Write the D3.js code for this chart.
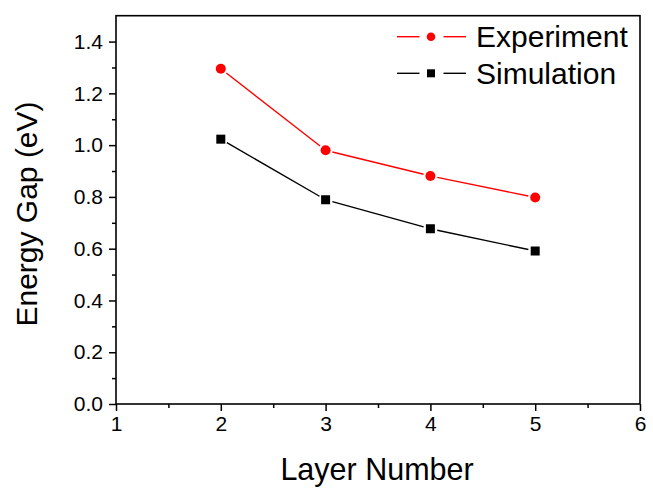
<!DOCTYPE html>
<html>
<head>
<meta charset="utf-8">
<script src="https://cdn.jsdelivr.net/npm/d3@7/dist/d3.min.js"></script>
<style>
  html, body { margin: 0; padding: 0; background: #fff; }
  svg { display: block; font-family: "Liberation Sans", Arial, sans-serif; }
</style>
</head>
<body>
<svg id="chart" width="653" height="498"></svg>
<script>
// Layer number vs. band gap
const layers = [2, 3, 4, 5];
const experiment = [1.295, 0.980, 0.881, 0.798];
const simulation = [1.023, 0.789, 0.677, 0.591];
const xTicks = [1, 2, 3, 4, 5, 6];
const yTicks = [0.0, 0.2, 0.4, 0.6, 0.8, 1.0, 1.2, 1.4];
const seriesNames = ["Experiment", "Simulation"];
const seriesColors = ["#ff0000", "#000000"];

const svg = d3.select("#chart");
const m = { left: 116, top: 15.7, right: 640, bottom: 404 };

const x = d3.scaleLinear().domain([1, 6]).range([m.left, m.right]);
const y = d3.scaleLinear().domain([0, 1.5]).range([m.bottom, m.top]);

// Major and minor ticks on the bottom axis
const xAxis = d3.axisBottom(x).tickValues(xTicks).tickFormat(d3.format("d"))
  .tickSizeInner(7).tickSizeOuter(0).tickPadding(5);
const gx = svg.append("g").attr("transform", `translate(0,${m.bottom})`).call(xAxis);
gx.select(".domain").remove();
gx.selectAll(".tick line").attr("stroke-width", 1.5);
gx.selectAll(".tick text").attr("font-size", 21).attr("fill", "#000")
  .attr("font-family", "'Liberation Sans', Arial, sans-serif");
const xMinor = d3.axisBottom(x).tickValues([1.5, 2.5, 3.5, 4.5, 5.5])
  .tickSizeInner(4).tickSizeOuter(0).tickFormat("");
const gxm = svg.append("g").attr("transform", `translate(0,${m.bottom})`).call(xMinor);
gxm.select(".domain").remove();
gxm.selectAll(".tick line").attr("stroke-width", 1.5);

// Major and minor ticks on the left axis
const yAxis = d3.axisLeft(y).tickValues(yTicks).tickFormat(d3.format(".1f"))
  .tickSizeInner(7).tickSizeOuter(0).tickPadding(6);
const gy = svg.append("g").attr("transform", `translate(${m.left},0)`).call(yAxis);
gy.select(".domain").remove();
gy.selectAll(".tick line").attr("stroke-width", 1.5);
gy.selectAll(".tick text").attr("font-size", 21).attr("fill", "#000")
  .attr("font-family", "'Liberation Sans', Arial, sans-serif");
const yMinor = d3.axisLeft(y).tickValues([0.1, 0.3, 0.5, 0.7, 0.9, 1.1, 1.3])
  .tickSizeInner(4).tickSizeOuter(0).tickFormat("");
const gym = svg.append("g").attr("transform", `translate(${m.left},0)`).call(yMinor);
gym.select(".domain").remove();
gym.selectAll(".tick line").attr("stroke-width", 1.5);

// Plot frame
svg.append("rect")
  .attr("x", m.left).attr("y", m.top)
  .attr("width", m.right - m.left).attr("height", m.bottom - m.top)
  .attr("fill", "none").attr("stroke", "#000").attr("stroke-width", 1.6);

// Axis titles
svg.append("text").attr("x", (m.left + m.right) / 2 - 1).attr("y", 480)
  .attr("text-anchor", "middle").attr("font-size", 30.5).text("Layer Number");
svg.append("text")
  .attr("transform", `translate(37,214) rotate(-90)`)
  .attr("text-anchor", "middle").attr("font-size", 30).text("Energy Gap (eV)");

// Connecting segments stop short of each marker
function gappedSegments(vals, gap) {
  const segs = [];
  for (let i = 0; i < layers.length - 1; i++) {
    const x0 = x(layers[i]), y0 = y(vals[i]);
    const x1 = x(layers[i + 1]), y1 = y(vals[i + 1]);
    const len = Math.hypot(x1 - x0, y1 - y0);
    const ux = (x1 - x0) / len, uy = (y1 - y0) / len;
    segs.push([x0 + ux * gap, y0 + uy * gap, x1 - ux * gap, y1 - uy * gap]);
  }
  return segs;
}

const series = [experiment, simulation];
series.forEach((vals, si) => {
  const g = svg.append("g");
  g.selectAll("line").data(gappedSegments(vals, 7)).join("line")
    .attr("x1", d => d[0]).attr("y1", d => d[1])
    .attr("x2", d => d[2]).attr("y2", d => d[3])
    .attr("stroke", seriesColors[si]).attr("stroke-width", 1.4);
  if (si === 0) {
    g.selectAll("circle").data(vals).join("circle")
      .attr("cx", (d, i) => x(layers[i])).attr("cy", d => y(d))
      .attr("r", 5).attr("fill", seriesColors[si]);
  } else {
    g.selectAll("rect").data(vals).join("rect")
      .attr("x", (d, i) => x(layers[i]) - 4.5).attr("y", d => y(d) - 4.5)
      .attr("width", 9).attr("height", 9).attr("fill", seriesColors[si]);
  }
});

// Legend
const legendRows = [36.7, 73.3];
seriesNames.forEach((name, si) => {
  const gy0 = legendRows[si];
  const g = svg.append("g");
  g.append("line").attr("x1", 397).attr("x2", 419.5).attr("y1", gy0).attr("y2", gy0)
    .attr("stroke", seriesColors[si]).attr("stroke-width", 1.4);
  g.append("line").attr("x1", 443.5).attr("x2", 466).attr("y1", gy0).attr("y2", gy0)
    .attr("stroke", seriesColors[si]).attr("stroke-width", 1.4);
  if (si === 0) {
    g.append("circle").attr("cx", 431).attr("cy", gy0).attr("r", 4.3).attr("fill", seriesColors[si]);
  } else {
    g.append("rect").attr("x", 427).attr("y", gy0 - 4).attr("width", 8).attr("height", 8)
      .attr("fill", seriesColors[si]);
  }
  g.append("text").attr("x", 476).attr("y", gy0 + 10.5).attr("font-size", 30)
    .attr("fill", "#000").text(name);
});
</script>
</body>
</html>
